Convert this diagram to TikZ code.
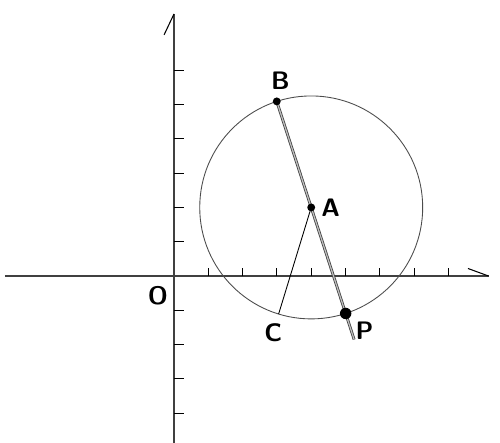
\documentclass[tikz,border=0pt]{standalone}
\usetikzlibrary{positioning, calc}

\tikzset{
  axis/.style={line width=1.2pt, draw=black!75},
  axtick/.style={line width=0.6pt},
  dot/.style={circle, fill=black, inner sep=0pt, minimum size=4.5pt},
  lbl/.style={font=\sffamily\bfseries\Large, inner sep=1pt},
  diam/.style={double=black!25, double distance=0.7pt, line width=0.45pt, draw=black!75},
}

\begin{document}
\begin{tikzpicture}[x=0.686cm, y=0.686cm, line width=0.5pt]
\useasboundingbox (-5.073,-4.840) rectangle (9.504,8.047);

    % Osy x a y
    \coordinate (O) at (0,0);
    \coordinate (xend) at (9.17,0);
    \coordinate (yend) at (0,7.64);
    \draw[axis] (-4.93,0) -- (xend);
    \draw[axis] (0,-4.9) -- (yend);
    \draw[axtick] (xend) -- (8.57,0.22);
    \draw[axtick] (yend) -- (-0.29,7.03);
    \node[lbl] (Olbl) at (-0.47,-0.58) {O};

    % Dílky na osách
    \foreach \i in {1,...,8}
        \draw[axtick] (\i,0) -- (\i,0.22);
    \foreach \j in {-4,-3,-2,-1,1,2,3,4,5,6}
        \draw[axtick] (0,\j) -- (0.3,\j);

    % Kružnice se středem A
    \coordinate (A0) at (4,2);
    \draw[draw=black!70] (A0) circle (3.25);

    % Body na kružnici
    \coordinate (B0) at ($(A0)+(108:3.25)$);
    \coordinate (P0) at ($(A0)+(-72:3.25)$);
    \coordinate (C) at ($(A0)+(253:3.25)$);
    \coordinate (Pend) at ($(A0)+(-72:4.05)$);

    % Průměr BP a úsečka AC
    \draw[diam] (B0) -- (Pend);
    \draw (A0) -- (C);

    % Body
    \node[dot] (A) at (A0) {};
    \node[dot] (B) at (B0) {};
    \node[dot, minimum size=6.5pt] (P) at (P0) {};

    % Popisky
    \node[lbl, above=3pt of B, xshift=2pt] (Blbl) {B};
    \node[lbl, right=2pt of A] (Albl) {A};
    \node[lbl, below=4pt of C, xshift=-3pt] (Clbl) {C};
    \node[lbl, below right=1pt and 2pt of P] (Plbl) {P};

\end{tikzpicture}
\end{document}
